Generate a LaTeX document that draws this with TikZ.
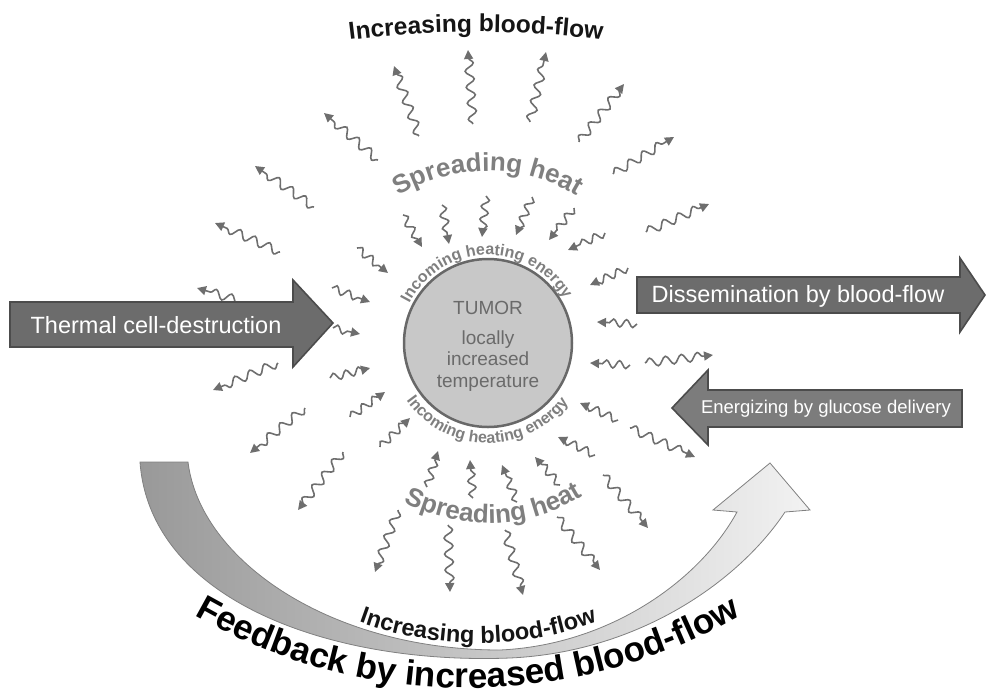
\documentclass[tikz,border=0pt]{standalone}
\usepackage{fontspec}
\setmainfont{Liberation Sans}
\usetikzlibrary{arrows.meta,decorations.pathmorphing,decorations.text}

\definecolor{wavegray}{HTML}{6E6E6E}
\definecolor{heatgray}{HTML}{7F7F7F}
\definecolor{tumorfill}{HTML}{C8C8C8}
\definecolor{tumoredge}{HTML}{686868}
\definecolor{tumortext}{HTML}{6A6A6A}
\definecolor{boxfill}{HTML}{6C6C6C}
\definecolor{boxlight}{HTML}{7C7C7C}
\definecolor{boxedge}{HTML}{4C4C4C}
\definecolor{loopdark}{HTML}{999999}
\definecolor{looplight}{HTML}{F2F2F2}
\definecolor{inktext}{HTML}{151515}

\begin{document}
\begin{tikzpicture}[x=1pt, y=1pt,
    wave/.style = {draw=wavegray, line width=1.6pt,
      -{Triangle[length=9pt,width=9pt]}, decorate,
      decoration={snake, amplitude=4.3pt, segment length=16pt, post length=7pt}},
    bigarrow/.style = {fill=boxfill, draw=boxedge, line width=1.6pt},
    boxtext/.style = {text=white, inner sep=0pt, font=\fontsize{23.5}{23.5}\selectfont},
    arctext/.style 2 args = {decorate, decoration={text along path,
      text align=center, text color=#1, text={#2}}}]
  \useasboundingbox (0,0) rectangle (986,-697);

  % heat going out (outer ring)
  \foreach \xa/\ya/\xb/\yb in {419/136/394/66, 473/124/468/50, 530/122/546/52,
      579/142/624/84, 613/174/674/137, 646/232/709/204, 645/363/713/355,
      630/428/695/457, 603/475/648/528, 557/517/600/570, 505/530/523/595,
      448/525/450/592, 398/510/375/572, 343/452/298/510, 305/408/250/453,
      278/363/213/390, 243/302/197/288, 280/252/215/223, 314/207/255/166,
      378/160/324/113}
    \draw[wave] (\xa,-\ya) -- (\xb,-\yb);
  % heating energy coming in (inner ring)
  \foreach \xa/\ya/\xb/\yb in {403/215/422/247, 442/205/449/244, 486/196/482/237,
      532/197/516/235, 574/208/549/240, 605/233/568/250, 628/268/590/285,
      637/324/597/322, 630/365/590/363, 618/420/580/403, 595/455/558/437,
      560/485/535/457, 517/502/502/465, 473/498/470/460, 427/487/438/451,
      380/447/410/418, 350/417/385/392, 330/378/370/368, 333/328/360/334,
      332/288/370/302, 357/248/388/273}
    \draw[wave, decoration={segment length=13pt, amplitude=3.8pt}] (\xa,-\ya) -- (\xb,-\yb);

  % feedback loop
  \draw[draw=gray, line width=0.8pt, left color=loopdark, right color=looplight]
    (140,-462) .. controls (150,-600) and (330,-665) .. (510,-658)
    .. controls (640,-652) and (740,-580) .. (785,-512)
    -- (810,-510) -- (770,-463) -- (713,-510) -- (737,-512)
    .. controls (700,-580) and (610,-645) .. (500,-650)
    .. controls (330,-650) and (200,-560) .. (188,-462) -- cycle;

  % block arrows
  \draw[bigarrow] (10,-302) -- (293,-302) -- (293,-280) -- (333,-323)
    -- (293,-367) -- (293,-347) -- (10,-347) -- cycle;
  \node[boxtext] (thermal) at (156,-325) {Thermal cell-destruction};
  \draw[bigarrow] (637,-277) -- (960,-277) -- (960,-258) -- (985,-295)
    -- (960,-332) -- (960,-313) -- (637,-313) -- cycle;
  \node[boxtext] (dissem) at (798,-296) {Dissemination by blood-flow};
  \draw[bigarrow, fill=boxlight] (962,-390) -- (708,-390) -- (708,-370)
    -- (672,-408) -- (708,-445) -- (708,-427) -- (962,-427) -- cycle;
  \node[boxtext, font=\fontsize{18.5}{18.5}\selectfont] (energ) at (826,-409)
    {Energizing by glucose delivery};

  % tumor
  \node[circle, fill=tumorfill, draw=tumoredge, line width=2.5pt,
    minimum size=168pt, inner sep=0pt] (tumor) at (488,-343) {};
  \node[text=tumortext, font=\fontsize{19}{19}\selectfont] (tumorname)
    at (488,-308) {TUMOR};
  \node[text=tumortext, align=center, font=\fontsize{19}{21.5}\selectfont]
    (tumortemp) at (488,-361) {locally\\increased\\temperature};

  % texts on arcs
  \path[arctext={heatgray}{|\fontsize{16}{16}\selectfont\bfseries|Incoming heating energy}]
    (488,-343) ++(178:88pt) arc[start angle=178, end angle=5, radius=88pt];
  \path[arctext={heatgray}{|\fontsize{16}{16}\selectfont\bfseries|Incoming heating energy}]
    (488,-343) ++(185:100pt) arc[start angle=185, end angle=354, radius=100pt];
  \path[arctext={heatgray}{|\fontsize{26}{26}\selectfont\bfseries|Spreading heat}]
    (488,-343) ++(135:172pt) arc[start angle=135, end angle=45, radius=172pt];
  \path[arctext={heatgray}{|\fontsize{26}{26}\selectfont\bfseries|Spreading heat}]
    (488,-343) ++(225:180pt) arc[start angle=225, end angle=319, radius=180pt];
  \path[arctext={inktext}{|\fontsize{24.5}{24.5}\selectfont\bfseries|Increasing blood-flow}]
    (476,-1048) ++(100:1016pt) arc[start angle=100, end angle=80, radius=1016pt];
  \path[arctext={inktext}{|\fontsize{23.5}{23.5}\selectfont\bfseries|Increasing blood-flow}]
    (478,-298) ++(240:345pt) arc[start angle=240, end angle=300, radius=345pt];
  \path[arctext={black}{|\fontsize{35}{35}\selectfont\bfseries|Feedback by increased blood-flow}]
    (468,-140) ++(225:548pt) arc[start angle=225, end angle=315, radius=548pt];
\end{tikzpicture}
\end{document}
